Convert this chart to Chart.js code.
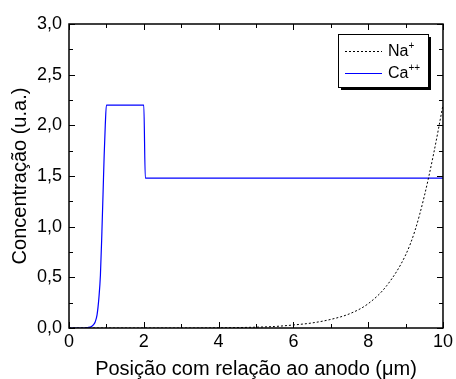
<!DOCTYPE html>
<html lang="pt">
<head>
<meta charset="utf-8">
<title>Concentração</title>
<script src="https://cdn.jsdelivr.net/npm/chart.js@4.4.1/dist/chart.umd.min.js"></script>
<style>
  html, body { margin: 0; padding: 0; background: #fff; }
  canvas { display: block; }
</style>
</head>
<body>
<canvas id="concChart" width="456" height="379"></canvas>
<script>
// ── Data ──
// Na+ profile (dashed): negligible up to ~5 µm, then climbs steeply near the cathode side
const naX = [0, 1, 2, 3, 4, 5, 5.5, 6, 6.5, 7, 7.5, 8, 8.5, 9, 9.25, 9.5, 9.75, 10];
const naY = [0, 0, 0, 0, 0.002, 0.008, 0.015, 0.03, 0.05, 0.085, 0.14, 0.24, 0.42, 0.72, 0.96, 1.3, 1.72, 2.2];

// Ca++ profile (blue): sharp rise before 1 µm, plateau, then drop to a constant level
const caX = [0, 0.4, 0.5, 0.6, 0.65, 0.7, 0.75, 0.8, 0.84, 0.88, 0.91, 0.94, 0.97, 1.0, 2.0, 2.04, 10];
const caY = [0, 0, 0.005, 0.015, 0.03, 0.06, 0.13, 0.3, 0.52, 0.95, 1.32, 1.7, 2.0, 2.2, 2.2, 1.48, 1.48];

// Legend text: base + superscript charge
const legendBase = ['Na', 'Ca'];
const legendSup = ['+', '++'];

// Axis ranges / steps
const xRange = [0, 10];
const yRange = [0, 3];
const xMajorStep = 2, xMinorStep = 1;
const yMajorStep = 0.5, yMinorStep = 0.25;

const FONT = "'Liberation Sans', Arial, sans-serif";

const toPoints = (xs, ys) => xs.map((x, i) => ({ x, y: ys[i] }));

// ── Frame + inward ticks on all four sides ──
const framePlugin = {
  id: 'frame',
  afterDatasetsDraw(chart) {
    const { ctx, chartArea: a, scales: { x, y } } = chart;
    ctx.save();
    ctx.strokeStyle = '#000';
    ctx.lineWidth = 1.5;
    ctx.strokeRect(a.left, a.top, a.right - a.left, a.bottom - a.top);

    ctx.lineWidth = 1;
    ctx.beginPath();
    // x ticks: bottom (pointing up) and top (pointing down)
    for (let v = xRange[0]; v <= xRange[1] + 1e-9; v += xMinorStep) {
      const px = Math.round(x.getPixelForValue(v)) + 0.5;
      const len = (Math.abs(v / xMajorStep - Math.round(v / xMajorStep)) < 1e-6) ? 6 : 4;
      ctx.moveTo(px, a.bottom); ctx.lineTo(px, a.bottom - len);
      ctx.moveTo(px, a.top); ctx.lineTo(px, a.top + len);
    }
    // y ticks: left (pointing right) and right (pointing left)
    for (let v = yRange[0]; v <= yRange[1] + 1e-9; v += yMinorStep) {
      const py = Math.round(y.getPixelForValue(v)) + 0.5;
      const len = (Math.abs(v / yMajorStep - Math.round(v / yMajorStep)) < 1e-6) ? 6 : 4;
      ctx.moveTo(a.left, py); ctx.lineTo(a.left + len, py);
      ctx.moveTo(a.right, py); ctx.lineTo(a.right - len, py);
    }
    ctx.stroke();
    ctx.restore();
  }
};

// ── Boxed legend with drop shadow, top right inside the plot ──
const boxLegendPlugin = {
  id: 'boxLegend',
  afterDraw(chart) {
    const { ctx } = chart;
    const bx = 338, by = 34, bw = 90, bh = 53;
    ctx.save();
    ctx.fillStyle = '#000';
    ctx.fillRect(bx + 3, by + 3, bw, bh);
    ctx.fillStyle = '#fff';
    ctx.fillRect(bx, by, bw, bh);
    ctx.strokeStyle = '#000';
    ctx.lineWidth = 1;
    ctx.strokeRect(bx + 0.5, by + 0.5, bw, bh);

    chart.data.datasets.forEach((ds, i) => {
      const rowY = by + 17 + i * 22;
      ctx.beginPath();
      ctx.strokeStyle = ds.borderColor;
      ctx.lineWidth = ds.borderWidth;
      ctx.setLineDash(ds.borderDash || []);
      ctx.moveTo(bx + 7, rowY + 0.5);
      ctx.lineTo(bx + 44, rowY + 0.5);
      ctx.stroke();
      ctx.setLineDash([]);

      ctx.fillStyle = '#000';
      ctx.textBaseline = 'middle';
      ctx.font = `16px ${FONT}`;
      ctx.fillText(legendBase[i], bx + 50, rowY + 1);
      const w = ctx.measureText(legendBase[i]).width;
      ctx.font = `10px ${FONT}`;
      ctx.fillText(legendSup[i], bx + 50 + w, rowY - 5);
    });
    ctx.restore();
  }
};

new Chart(document.getElementById('concChart'), {
  type: 'scatter',
  data: {
    datasets: [
      {
        label: 'Na+',
        data: toPoints(naX, naY),
        showLine: true,
        borderColor: '#000',
        borderWidth: 1,
        borderDash: [2, 2],
        pointRadius: 0,
        cubicInterpolationMode: 'monotone'
      },
      {
        label: 'Ca++',
        data: toPoints(caX, caY),
        showLine: true,
        borderColor: '#0000ff',
        borderWidth: 1.2,
        pointRadius: 0,
        cubicInterpolationMode: 'monotone'
      }
    ]
  },
  options: {
    responsive: false,
    animation: false,
    layout: { padding: { top: 24, right: 13, left: 0, bottom: 0 } },
    plugins: { legend: { display: false }, tooltip: { enabled: false } },
    scales: {
      x: {
        type: 'linear',
        min: xRange[0], max: xRange[1],
        grid: { display: false, drawTicks: false },
        border: { display: false },
        ticks: { stepSize: xMajorStep, color: '#000', padding: 3, font: { family: FONT, size: 18 } },
        title: {
          display: true,
          text: 'Posição com relação ao anodo (μm)',
          color: '#000',
          font: { family: FONT, size: 20, lineHeight: 1 },
          padding: { top: 0, bottom: 0 }
        },
        afterFit(scale) { scale.height = 51; }
      },
      y: {
        type: 'linear',
        min: yRange[0], max: yRange[1],
        grid: { display: false, drawTicks: false },
        border: { display: false },
        ticks: {
          stepSize: yMajorStep,
          color: '#000',
          padding: 7,
          font: { family: FONT, size: 18 },
          callback: v => v.toFixed(1).replace('.', ',')
        },
        title: {
          display: true,
          text: 'Concentração (u.a.)',
          color: '#000',
          font: { family: FONT, size: 20, lineHeight: 1 },
          padding: { top: 10, bottom: 0 }
        },
        afterFit(scale) { scale.width = 69; }
      }
    }
  },
  plugins: [framePlugin, boxLegendPlugin]
});
</script>
</body>
</html>
